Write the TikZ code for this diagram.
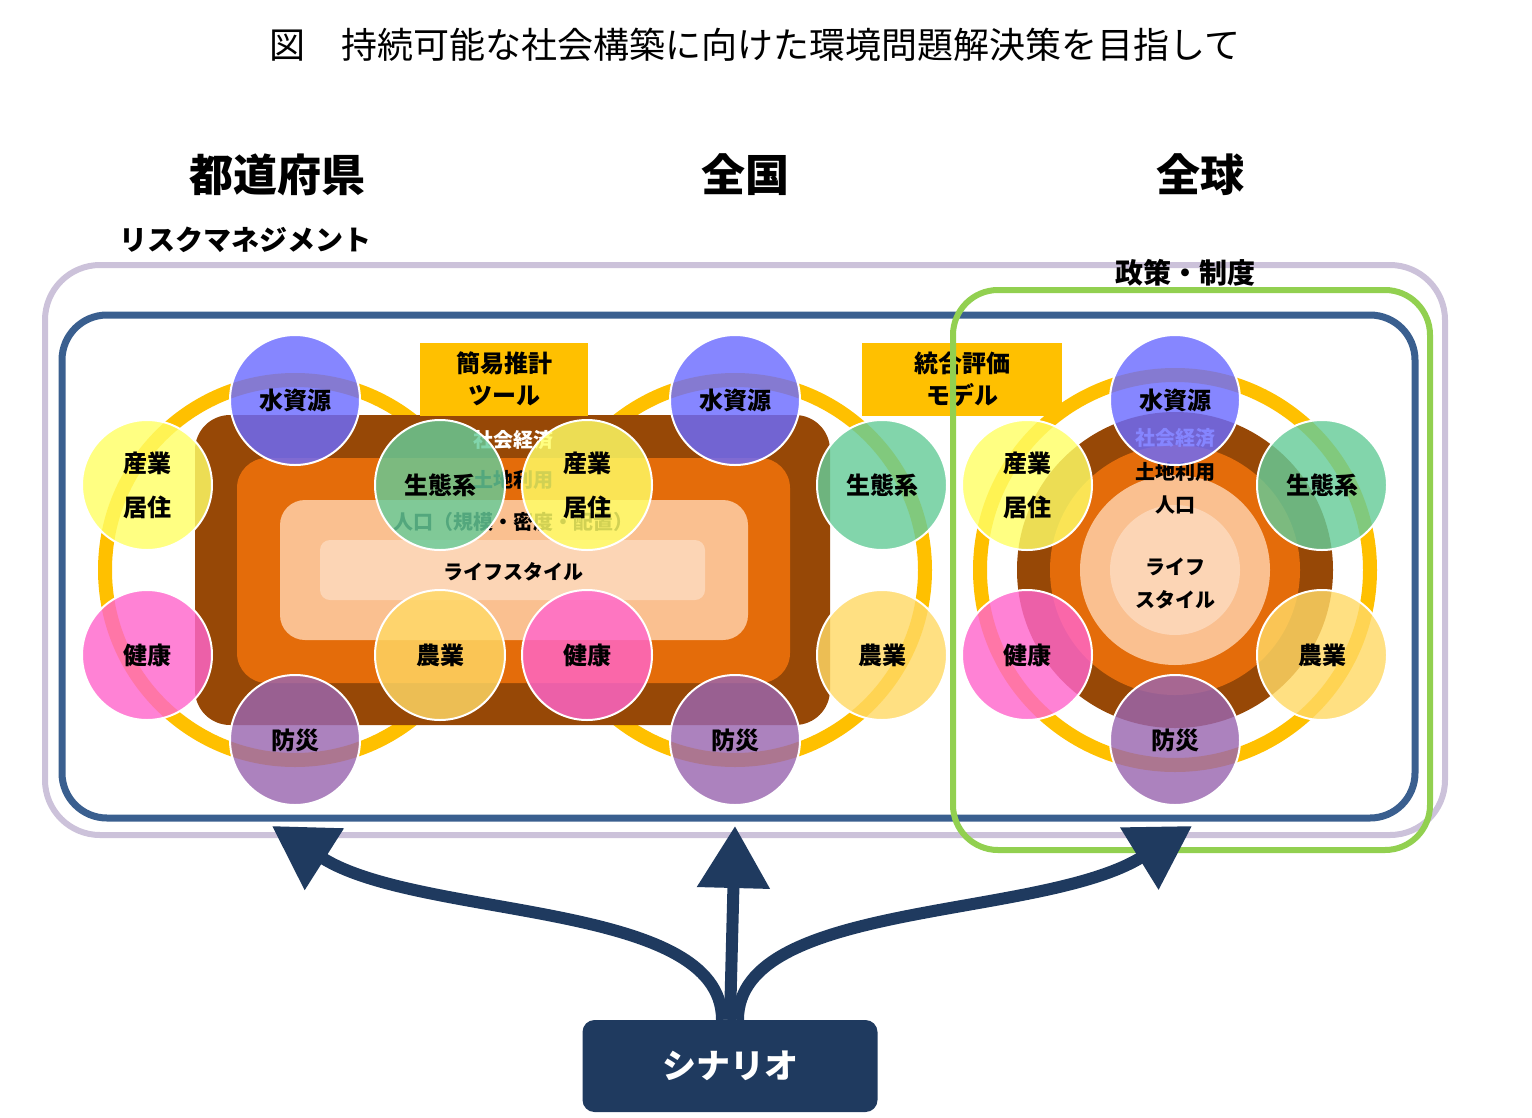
\documentclass[tikz,border=0pt]{standalone}
\usepackage{fontspec}
\setmainfont{Noto Sans CJK JP}
\usetikzlibrary{arrows.meta}
\definecolor{lav}{HTML}{CCC2DA}
\definecolor{blu}{HTML}{3A5F8F}
\definecolor{grn}{HTML}{92D050}
\definecolor{gold}{HTML}{FFC000}
\definecolor{brn}{HTML}{974806}
\definecolor{org}{HTML}{E46C0A}
\definecolor{lor}{HTML}{FAC090}
\definecolor{llor}{HTML}{FCD5B5}
\definecolor{navy}{HTML}{1F3A5F}
\definecolor{cw}{HTML}{6B6BFF}
\definecolor{cy}{HTML}{FFFF66}
\definecolor{cg}{HTML}{66CC99}
\definecolor{cp}{HTML}{FF66CC}
\definecolor{ca}{HTML}{FFD966}
\definecolor{cd}{HTML}{9A66B0}
\tikzset{
 x=1pt,y=-1pt,
 ball/.style={circle,minimum size=130pt,inner sep=0pt,draw=white,line width=2pt,fill opacity=0.82,text opacity=1,font=\fontsize{24}{44}\selectfont\bfseries,align=center},
 lbl/.style={font=\fontsize{20}{24}\selectfont\bfseries,align=center},
 frame/.style={rounded corners=45pt,line width=6pt},
 box/.style={fill=gold,minimum height=73pt,font=\fontsize{24}{32}\selectfont\bfseries,align=center,inner sep=0pt},
 head/.style={font=\fontsize{44}{48}\selectfont\bfseries},
 arr/.style={navy,line width=12pt,-{Triangle[width=70pt,length=62pt]}}
}
\begin{document}
\begin{tikzpicture}
\useasboundingbox (0,0) rectangle (1532,1117);
\node (title) at (755,45) {\fontsize{36}{40}\selectfont 図\quad 持続可能な社会構築に向けた環境問題解決策を目指して};
\node[head] (h1) at (277,175) {都道府県};
\node[head] (h2) at (745,175) {全国};
\node[head] (h3) at (1200,175) {全球};
\node[font=\fontsize{28}{30}\selectfont\bfseries] (risk) at (245,240) {リスクマネジメント};
% rings
\draw[gold,line width=14pt] (295,570) circle (190);
\draw[gold,line width=14pt] (735,570) circle (190);
\draw[gold,line width=14pt] (1175,570) circle (195);
% left/mid layered rects
\fill[brn,rounded corners=35pt] (195,415) rectangle (830,725);
\fill[org,rounded corners=30pt] (237,458) rectangle (790,683);
\fill[lor,rounded corners=25pt] (280,500) rectangle (748,640);
\fill[llor,rounded corners=10pt] (320,540) rectangle (705,600);
\node[lbl,white] (l1) at (513,440) {社会経済};
\node[lbl] (l2) at (513,480) {土地利用};
\node[lbl] (l3) at (513,522) {人口（規模・密度・配置）};
\node[lbl] (l4) at (513,572) {ライフスタイル};
% right concentric
\fill[brn] (1175,570) circle (158);
\fill[org] (1175,570) circle (125);
\fill[lor] (1175,570) circle (95);
\fill[llor] (1175,570) circle (65);
\node[lbl,white] (r1) at (1175,438) {社会経済};
\node[lbl] (r2) at (1175,472) {土地利用};
\node[lbl] (r3) at (1175,505) {人口};
\node[lbl] (r4) at (1175,567) {ライフ};
\node[lbl] (r5) at (1175,600) {スタイル};
% boxes
\node[box,minimum width=168pt] (b1) at (504,379) {簡易推計\\ツール};
\node[box,minimum width=200pt] (b2) at (962,379) {統合評価\\モデル};
% frames
\draw[lav,frame,rounded corners=55pt] (45,265) rectangle (1445,835);
\draw[blu,frame,line width=7pt] (62,315) rectangle (1415,818);
\draw[grn,frame] (953,290) rectangle (1430,850);
\node[font=\fontsize{28}{30}\selectfont\bfseries] (pol) at (1185,273) {政策・制度};
% balls left
\node[ball,fill=cw] (w1) at (295,400) {水資源};
\node[ball,fill=cy] (i1) at (147,485) {産業\\居住};
\node[ball,fill=cp] (p1) at (147,655) {健康};
\node[ball,fill=cd] (d1) at (295,740) {防災};
\node[ball,fill=cg] (e1) at (440,485) {生態系};
\node[ball,fill=cy] (i2) at (587,485) {産業\\居住};
\node[ball,fill=ca] (a1) at (440,655) {農業};
\node[ball,fill=cp] (p2) at (587,655) {健康};
% balls mid
\node[ball,fill=cw] (w2) at (735,400) {水資源};
\node[ball,fill=cg] (e2) at (882,485) {生態系};
\node[ball,fill=ca] (a2) at (882,655) {農業};
\node[ball,fill=cd] (d2) at (735,740) {防災};
% balls right
\node[ball,fill=cw] (w3) at (1175,400) {水資源};
\node[ball,fill=cg] (e3) at (1322,485) {生態系};
\node[ball,fill=ca] (a3) at (1322,655) {農業};
\node[ball,fill=cd] (d3) at (1175,740) {防災};
\node[ball,fill=cp] (p3) at (1027,655) {健康};
\node[ball,fill=cy] (i3) at (1027,485) {産業\\居住};
% scenario
\node[fill=navy,rounded corners=12pt,minimum width=295pt,minimum height=92pt,text=white,font=\fontsize{34}{38}\selectfont\bfseries] (sc) at (730,1066) {シナリオ};
\coordinate (tL) at (272,826);
\coordinate (tM) at (735,826);
\coordinate (tR) at (1192,826);
\draw[arr] (sc.north) -- (tM);
\draw[arr] ([xshift=-8pt]sc.north) .. controls (722,900) and (420,920) .. (tL);
\draw[arr] ([xshift=8pt]sc.north) .. controls (738,900) and (1040,920) .. (tR);
\end{tikzpicture}
\end{document}
